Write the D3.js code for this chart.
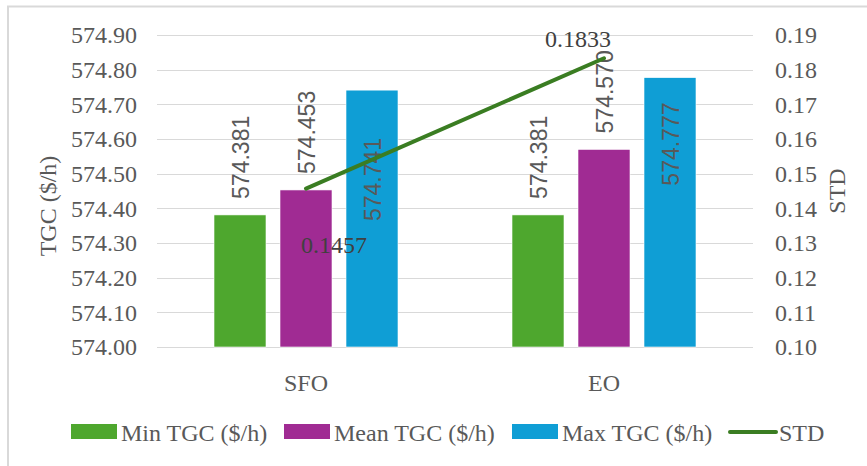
<!DOCTYPE html>
<html>
<head>
<meta charset="utf-8">
<script src="https://cdn.jsdelivr.net/npm/d3@7"></script>
<style>
  html, body { margin: 0; padding: 0; background: #fff; }
  svg { display: block; }
</style>
</head>
<body>
<svg id="chart" width="867" height="466"></svg>
<script>
// Generation cost results per optimiser
const categories = ["SFO", "EO"];
const seriesNames = ["Min TGC ($/h)", "Mean TGC ($/h)", "Max TGC ($/h)"];
const minTGC  = [574.381, 574.381];
const meanTGC = [574.453, 574.570];
const maxTGC  = [574.741, 574.777];
const stdTGC  = [0.1457, 0.1833];
const leftTicks  = [574.00, 574.10, 574.20, 574.30, 574.40, 574.50, 574.60, 574.70, 574.80, 574.90];
const rightTicks = [0.10, 0.11, 0.12, 0.13, 0.14, 0.15, 0.16, 0.17, 0.18, 0.19];

const colors = ["#4EA72E", "#A02B93", "#0F9ED5"];
const lineColor = "#3A7D22";
const SERIF = 'font-family: "Tinos"; font-size: 24px; fill: #595959;';
const SANS = 'font-family: "Liberation Sans"; font-size: 23px; fill: #595959;';

const svg = d3.select("#chart");

// chart frame (top and left edges)
svg.append("path")
  .attr("d", "M8,470 L8,6.5 L870,6.5")
  .attr("fill", "none").attr("stroke", "#d9d9d9").attr("stroke-width", 2);

const plot = { left: 157, right: 753, top: 35, bottom: 347 };

const x0 = d3.scaleBand().domain(categories).range([plot.left, plot.right]).padding(0);
const groupW = 184;
const x1 = d3.scaleBand().domain(seriesNames).range([0, groupW]).paddingInner(14 / 66).paddingOuter(0);
const yL = d3.scaleLinear().domain([574.0, 574.9]).range([plot.bottom, plot.top]);
const yR = d3.scaleLinear().domain([0.10, 0.19]).range([plot.bottom, plot.top]);

// gridlines
svg.append("g")
  .selectAll("line").data(leftTicks).join("line")
  .attr("x1", plot.left).attr("x2", plot.right)
  .attr("y1", d => Math.round(yL(d)) + 0.5).attr("y2", d => Math.round(yL(d)) + 0.5)
  .attr("stroke", "#d9d9d9").attr("stroke-width", 1);

function cleanAxis(g) {
  g.attr("font-family", null).attr("font-size", null);
  g.select(".domain").remove();
  g.selectAll("text").attr("fill", null).attr("style", SERIF);
}

const leftAxis = svg.append("g")
  .attr("transform", `translate(${plot.left - 20},0)`)
  .call(d3.axisLeft(yL).tickValues(leftTicks).tickFormat(d3.format(".2f")).tickSize(0).tickPadding(0));
cleanAxis(leftAxis);

const rightAxis = svg.append("g")
  .attr("transform", `translate(${plot.right + 22},0)`)
  .call(d3.axisRight(yR).tickValues(rightTicks).tickFormat(d3.format(".2f")).tickSize(0).tickPadding(0));
cleanAxis(rightAxis);

const bottomAxis = svg.append("g")
  .attr("transform", `translate(0,${plot.bottom})`)
  .call(d3.axisBottom(x0).tickSize(0).tickPadding(27));
cleanAxis(bottomAxis);

// axis titles
svg.append("text")
  .attr("transform", "translate(56,206) rotate(-90)")
  .attr("text-anchor", "middle").attr("style", SERIF)
  .text("TGC ($/h)");
svg.append("text")
  .attr("transform", "translate(845,191) rotate(-90)")
  .attr("text-anchor", "middle").attr("style", SERIF)
  .text("STD");

// bars
const seriesValues = [minTGC, meanTGC, maxTGC];
const barData = [];
categories.forEach((c, i) => {
  seriesNames.forEach((s, j) => {
    barData.push({ cat: c, ci: i, series: s, si: j, value: seriesValues[j][i] });
  });
});
const groupOffset = (x0.bandwidth() - groupW) / 2;
const barX = d => x0(d.cat) + groupOffset + x1(d.series);

svg.append("g")
  .selectAll("rect").data(barData).join("rect")
  .attr("x", barX)
  .attr("y", d => yL(d.value))
  .attr("width", x1.bandwidth())
  .attr("height", d => yL(574.0) - yL(d.value))
  .attr("fill", d => colors[d.si])
  .attr("stroke", "#ffffff").attr("stroke-width", 0.6);

// bar value labels: outside end for min/mean, inside for max
const maxLabelDrop = [131, 108];
svg.append("g")
  .selectAll("text").data(barData).join("text")
  .attr("style", SANS)
  .attr("transform", d => {
    const cx = barX(d) + x1.bandwidth() / 2 + 1;
    const y = d.si === 2 ? yL(d.value) + maxLabelDrop[d.ci] : yL(d.value) - 16;
    return `translate(${cx},${y}) rotate(-90)`;
  })
  .attr("dy", "0.36em")
  .attr("text-anchor", "start")
  .text(d => d3.format(".3f")(d.value));

// STD line on the secondary axis, through the mean bars
const lineX = i => x0(categories[i]) + x0.bandwidth() / 2;
const line = d3.line().x((d, i) => lineX(i)).y(d => yR(d));
svg.append("path")
  .datum(stdTGC)
  .attr("d", line)
  .attr("fill", "none").attr("stroke", lineColor).attr("stroke-width", 4)
  .attr("stroke-linecap", "round");

const stdLabelOffset = [[28, 56], [-26, -20]];
svg.append("g")
  .selectAll("text").data(stdTGC).join("text")
  .attr("style", SERIF + " fill: #404040;")
  .attr("x", (d, i) => lineX(i) + stdLabelOffset[i][0])
  .attr("y", (d, i) => yR(d) + stdLabelOffset[i][1])
  .attr("dy", "0.35em")
  .attr("text-anchor", "middle")
  .text(d => d3.format(".4f")(d));

// legend
const legendItems = [
  { label: seriesNames[0], color: colors[0], type: "rect", x: 71 },
  { label: seriesNames[1], color: colors[1], type: "rect", x: 284 },
  { label: seriesNames[2], color: colors[2], type: "rect", x: 512 },
  { label: "STD", color: lineColor, type: "line", x: 729 }
];
const legend = svg.append("g");
legendItems.forEach(it => {
  const g = legend.append("g").attr("transform", `translate(${it.x},0)`);
  if (it.type === "rect") {
    g.append("rect").attr("x", 0).attr("y", 424).attr("width", 46).attr("height", 15).attr("fill", it.color);
  } else {
    g.append("line").attr("x1", 1).attr("x2", 47).attr("y1", 432).attr("y2", 432)
      .attr("stroke", it.color).attr("stroke-width", 4).attr("stroke-linecap", "round");
  }
  g.append("text")
    .attr("x", 50).attr("y", 433).attr("dy", "0.35em").attr("style", SERIF)
    .text(it.label);
});
</script>
</body>
</html>
